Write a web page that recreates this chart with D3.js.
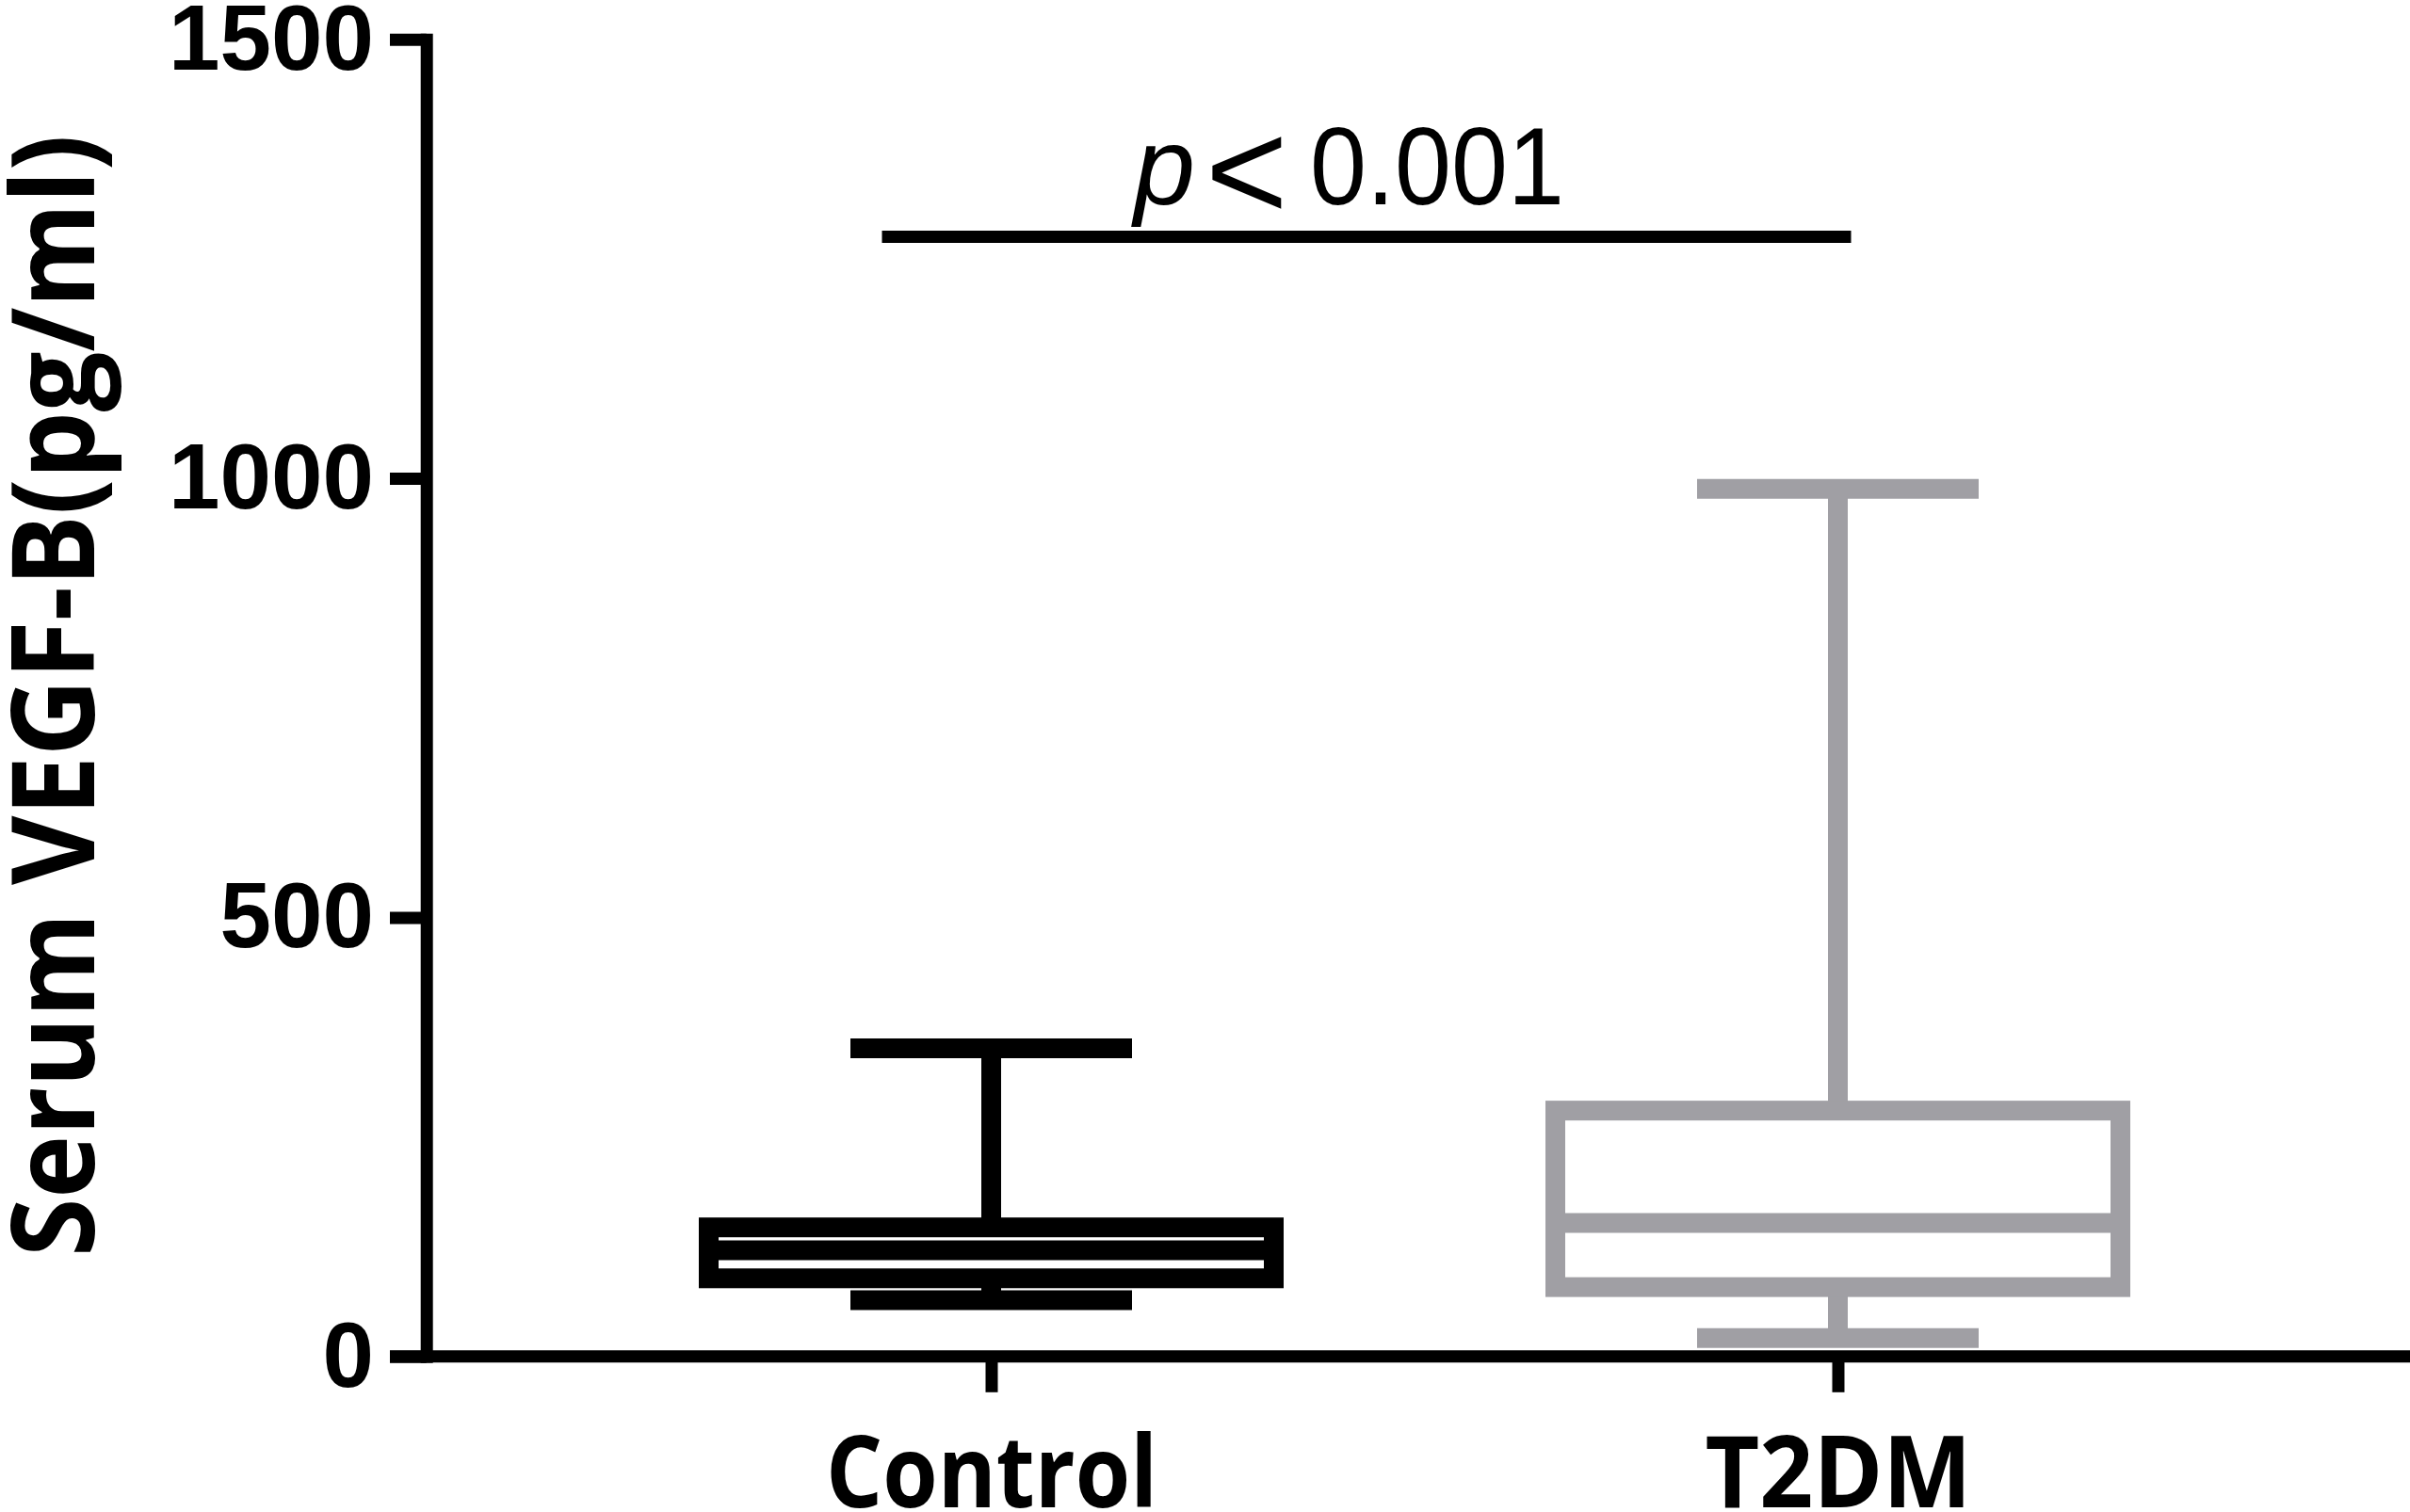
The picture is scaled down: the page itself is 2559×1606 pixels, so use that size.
<!DOCTYPE html>
<html>
<head>
<meta charset="utf-8">
<script src="https://cdn.jsdelivr.net/npm/d3@7"></script>
<style>
  html, body { margin: 0; padding: 0; background: #ffffff; }
  svg { display: block; }
</style>
</head>
<body>
<script>
// ---- Data ----
const categories = ["Control", "T2DM"];
const minValues    = [64, 21];
const q1Values     = [89, 79];
const medianValues = [121, 152];
const q3Values     = [147, 280];
const maxValues    = [351, 988];
const yTickValues  = [0, 500, 1000, 1500];
const yTitle = "Serum VEGF-B(pg/ml)";
const sigLabelP = "p";
const sigLabelOp = "<";
const sigLabelNum = "0.001";

// ---- Layout ----
const W = 2559, H = 1606;
const boxColors = ["#000000", "#a09fa4"];
const strokeW = 21;
const axisW = 13;
const boxWidth = 600;
const capWidth = 299;

const svg = d3.select("body").append("svg")
  .attr("width", W).attr("height", H)
  .attr("viewBox", `0 0 ${W} ${H}`);

svg.append("rect").attr("width", W).attr("height", H).attr("fill", "#fff");

const y = d3.scaleLinear().domain([0, 1500]).range([1440.8, 41.7]);
const x = d3.scalePoint().domain(categories).range([1052.5, 1951.5]);
const axisX = 452.7;
const tickLen = 38.7;

// ---- Box plots ----
const data = categories.map((c, i) => ({
  cat: c, min: minValues[i], q1: q1Values[i], med: medianValues[i],
  q3: q3Values[i], max: maxValues[i], color: boxColors[i]
}));

const g = svg.append("g");
data.forEach(d => {
  const cx = x(d.cat);
  const grp = g.append("g").attr("stroke", d.color).attr("fill", "none").attr("stroke-width", strokeW);
  grp.append("line").attr("x1", cx).attr("x2", cx).attr("y1", y(d.max)).attr("y2", y(d.q3));
  grp.append("line").attr("x1", cx).attr("x2", cx).attr("y1", y(d.q1)).attr("y2", y(d.min));
  grp.append("line").attr("x1", cx - capWidth / 2).attr("x2", cx + capWidth / 2)
    .attr("y1", y(d.max)).attr("y2", y(d.max));
  grp.append("line").attr("x1", cx - capWidth / 2).attr("x2", cx + capWidth / 2)
    .attr("y1", y(d.min)).attr("y2", y(d.min));
  grp.append("rect").attr("x", cx - boxWidth / 2).attr("y", y(d.q3))
    .attr("width", boxWidth).attr("height", y(d.q1) - y(d.q3))
    .attr("fill", "#fff");
  grp.append("line").attr("x1", cx - boxWidth / 2).attr("x2", cx + boxWidth / 2)
    .attr("y1", y(d.med)).attr("y2", y(d.med));
});

// ---- Y axis ----
const yAxis = d3.axisLeft(y).tickValues(yTickValues).tickSize(tickLen).tickSizeOuter(0).tickPadding(17)
  .tickFormat(d3.format("d"));
const yg = svg.append("g").attr("transform", `translate(${axisX},0)`).call(yAxis);
yg.select(".domain").attr("stroke", "#000").attr("stroke-width", axisW).attr("stroke-linecap", "square");
yg.selectAll(".tick line").attr("stroke", "#000").attr("stroke-width", axisW);
yg.selectAll(".tick text")
  .attr("fill", "#000")
  .style("font-family", "'Liberation Sans', Arial, sans-serif")
  .style("font-weight", "bold")
  .style("font-size", "98px");

// ---- X axis ----
const x0 = axisX - tickLen;
svg.append("line")
  .attr("x1", x0).attr("x2", W)
  .attr("y1", y(0)).attr("y2", y(0))
  .attr("stroke", "#000").attr("stroke-width", axisW);

const xAxis = d3.axisBottom(x).tickSize(38).tickSizeOuter(0);
const xg = svg.append("g").attr("transform", `translate(0,${y(0)})`).call(xAxis);
xg.select(".domain").remove();
xg.selectAll(".tick line").attr("stroke", "#000").attr("stroke-width", axisW);
xg.selectAll(".tick text")
  .attr("fill", "#000")
  .attr("y", 160).attr("dy", 0)
  .style("font-family", "'Open Sans', sans-serif")
  .style("font-weight", "bold")
  .style("font-size", "106px")
  .attr("textLength", d => d === "Control" ? 352 : 283)
  .attr("lengthAdjust", "spacingAndGlyphs");

// ---- Y title ----
svg.append("text")
  .attr("transform", "translate(100,1335) rotate(-90)")
  .attr("text-anchor", "start")
  .style("font-family", "'Open Sans', sans-serif")
  .style("font-weight", "bold")
  .style("font-size", "122px")
  .attr("textLength", 1192)
  .attr("lengthAdjust", "spacingAndGlyphs")
  .attr("fill", "#000")
  .text(yTitle);

// ---- Significance bar ----
const sigY = 1275;
svg.append("line")
  .attr("x1", x("Control") - 116).attr("x2", x("T2DM") + 14)
  .attr("y1", y(sigY)).attr("y2", y(sigY))
  .attr("stroke", "#000").attr("stroke-width", axisW);

const sig = svg.append("text")
  .attr("fill", "#000")
  .style("font-family", "'Liberation Sans', Arial, sans-serif")
  .style("font-size", "117px");
sig.append("tspan").attr("x", 1204).attr("y", 217).style("font-style", "italic").text(sigLabelP);
sig.append("tspan").attr("x", 1280).attr("y", 233).style("font-size", "150px").text(sigLabelOp);
sig.append("tspan").attr("x", 1391).attr("y", 217)
  .attr("textLength", 270).attr("lengthAdjust", "spacingAndGlyphs").text(sigLabelNum);
</script>
</body>
</html>
